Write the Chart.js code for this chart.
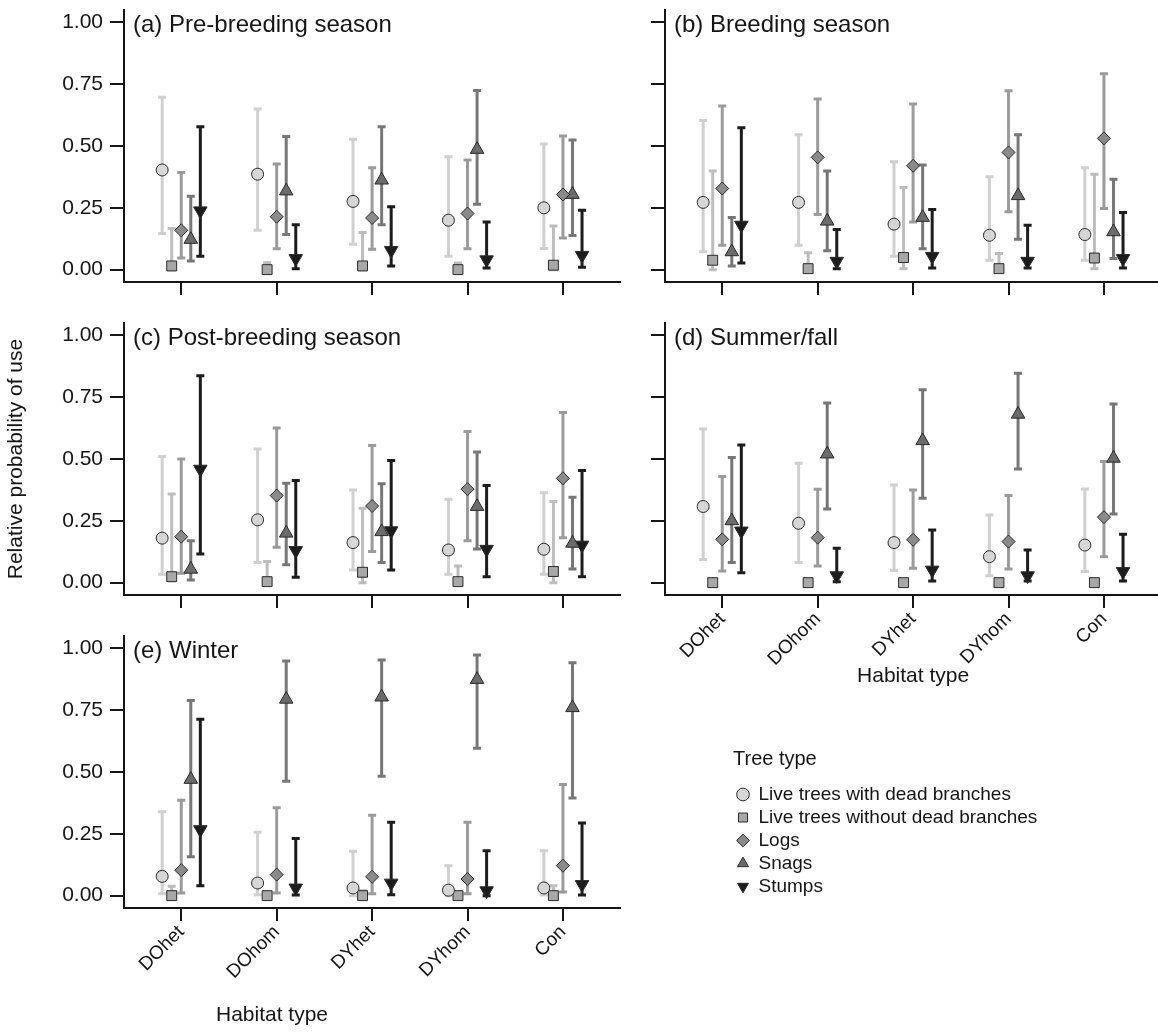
<!DOCTYPE html>
<html>
<head>
<meta charset="utf-8">
<script src="https://cdn.jsdelivr.net/npm/chart.js@4.4.1/dist/chart.umd.min.js"></script>
<style>
  html, body { margin: 0; padding: 0; background: #fff; }
  body { width: 1158px; height: 1035px; position: relative; overflow: hidden; }
  canvas { position: absolute; }
</style>
</head>
<body>
<canvas id="panelA"></canvas>
<canvas id="panelB"></canvas>
<canvas id="panelC"></canvas>
<canvas id="panelD"></canvas>
<canvas id="panelE"></canvas>
<canvas id="legendBox"></canvas>
<script>
const habitats = ['DOhet', 'DOhom', 'DYhet', 'DYhom', 'Con'];
const treeTypes = ['Live trees with dead branches', 'Live trees without dead branches', 'Logs', 'Snags', 'Stumps'];
const yTicks = [0, 0.25, 0.5, 0.75, 1];

// rows follow treeTypes, columns follow habitats
const preEst = [
  [0.403, 0.386, 0.276, 0.200, 0.250],
  [0.015, 0.000, 0.015, 0.000, 0.018],
  [0.159, 0.214, 0.209, 0.227, 0.304],
  [0.122, 0.318, 0.362, 0.486, 0.304],
  [0.238, 0.045, 0.078, 0.040, 0.058]
];
const preLo = [
  [0.146, 0.159, 0.103, 0.054, 0.085],
  [0.000, 0.000, 0.000, 0.000, 0.000],
  [0.047, 0.084, 0.082, 0.084, 0.128],
  [0.035, 0.142, 0.182, 0.264, 0.138],
  [0.054, 0.004, 0.015, 0.007, 0.010]
];
const preHi = [
  [0.697, 0.650, 0.527, 0.457, 0.508],
  [0.166, 0.028, 0.150, 0.027, 0.176],
  [0.393, 0.427, 0.412, 0.443, 0.540],
  [0.297, 0.538, 0.578, 0.724, 0.524],
  [0.578, 0.182, 0.254, 0.193, 0.240]
];

const breedEst = [
  [0.272, 0.272, 0.184, 0.139, 0.142],
  [0.038, 0.004, 0.049, 0.004, 0.047],
  [0.328, 0.454, 0.420, 0.474, 0.531],
  [0.072, 0.196, 0.211, 0.299, 0.153],
  [0.180, 0.034, 0.054, 0.034, 0.045]
];
const breedLo = [
  [0.072, 0.099, 0.054, 0.038, 0.038],
  [0.000, 0.000, 0.004, 0.000, 0.004],
  [0.099, 0.223, 0.193, 0.234, 0.247],
  [0.015, 0.076, 0.084, 0.123, 0.045],
  [0.027, 0.004, 0.007, 0.007, 0.007]
];
const breedHi = [
  [0.603, 0.545, 0.436, 0.376, 0.412],
  [0.399, 0.068, 0.332, 0.065, 0.386],
  [0.662, 0.690, 0.670, 0.723, 0.792],
  [0.211, 0.399, 0.423, 0.545, 0.366],
  [0.574, 0.162, 0.243, 0.180, 0.231]
];

const postEst = [
  [0.180, 0.254, 0.162, 0.132, 0.135],
  [0.024, 0.004, 0.042, 0.004, 0.045],
  [0.186, 0.352, 0.310, 0.378, 0.422],
  [0.054, 0.200, 0.206, 0.308, 0.159],
  [0.459, 0.130, 0.210, 0.135, 0.152]
];
const postLo = [
  [0.034, 0.081, 0.051, 0.034, 0.034],
  [0.008, 0.000, 0.000, 0.000, 0.000],
  [0.038, 0.143, 0.126, 0.169, 0.182],
  [0.011, 0.072, 0.081, 0.136, 0.055],
  [0.116, 0.022, 0.051, 0.024, 0.024]
];
const postHi = [
  [0.510, 0.540, 0.375, 0.337, 0.364],
  [0.358, 0.085, 0.301, 0.067, 0.328],
  [0.500, 0.625, 0.555, 0.611, 0.688],
  [0.169, 0.402, 0.400, 0.528, 0.345],
  [0.837, 0.413, 0.494, 0.393, 0.453]
];

const summerEst = [
  [0.308, 0.240, 0.162, 0.105, 0.152],
  [0.000, 0.000, 0.000, 0.000, 0.000],
  [0.175, 0.182, 0.173, 0.166, 0.265],
  [0.250, 0.520, 0.574, 0.681, 0.503],
  [0.209, 0.028, 0.051, 0.028, 0.045]
];
const summerLo = [
  [0.094, 0.081, 0.049, 0.028, 0.045],
  [0.000, 0.000, 0.000, 0.000, 0.000],
  [0.047, 0.067, 0.058, 0.055, 0.105],
  [0.081, 0.298, 0.341, 0.460, 0.278],
  [0.040, 0.004, 0.007, 0.007, 0.007]
];
const summerHi = [
  [0.621, 0.483, 0.395, 0.274, 0.379],
  [0.000, 0.000, 0.000, 0.000, 0.000],
  [0.429, 0.378, 0.375, 0.352, 0.490],
  [0.506, 0.726, 0.780, 0.847, 0.722],
  [0.557, 0.139, 0.213, 0.132, 0.196]
];

const winterEst = [
  [0.078, 0.051, 0.031, 0.022, 0.031],
  [0.000, 0.000, 0.000, 0.000, 0.000],
  [0.103, 0.085, 0.076, 0.067, 0.121],
  [0.470, 0.794, 0.803, 0.874, 0.760],
  [0.267, 0.031, 0.051, 0.020, 0.045]
];
const winterLo = [
  [0.008, 0.004, 0.000, 0.000, 0.003],
  [0.000, 0.000, 0.000, 0.000, 0.000],
  [0.011, 0.011, 0.008, 0.008, 0.015],
  [0.157, 0.463, 0.483, 0.596, 0.395],
  [0.040, 0.003, 0.004, 0.000, 0.003]
];
const winterHi = [
  [0.339, 0.256, 0.179, 0.121, 0.182],
  [0.038, 0.010, 0.020, 0.010, 0.040],
  [0.386, 0.355, 0.325, 0.297, 0.449],
  [0.789, 0.949, 0.953, 0.973, 0.942],
  [0.713, 0.231, 0.297, 0.182, 0.294]
];

// look of each tree type
const markerStyles = ['circle', 'rect', 'rectRot', 'triangle', 'triangle'];
const markerRot = [0, 0, 0, 0, 180];
const markerSize = [6, 7, 6.5, 7.8, 7.8];
const markerFill = ['#d6d6d6', '#a8a8a8', '#8a8a8a', '#6b6b6b', '#1c1c1c'];
const barColor = ['#d0d0d0', '#bdbdbd', '#9b9b9b', '#777777', '#1c1c1c'];
const dodge = [-0.2, -0.1, 0, 0.1, 0.2];

const ink = '#151515';
const fontName = '"Liberation Sans", Arial, sans-serif';
Chart.defaults.font.family = fontName;
Chart.defaults.color = ink;

// vertical interval lines with short caps, drawn under the points
const errorBars = {
  id: 'errorBars',
  beforeDatasetsDraw(chart) {
    const { ctx, scales: { x, y } } = chart;
    ctx.save();
    ctx.lineWidth = 3;
    chart.data.datasets.forEach(ds => {
      ctx.strokeStyle = ds.barColor;
      ds.data.forEach((p, i) => {
        const px = x.getPixelForValue(p.x);
        const y0 = y.getPixelForValue(ds.lo[i]);
        const y1 = y.getPixelForValue(ds.hi[i]);
        if (Math.abs(y0 - y1) < 1) return;
        ctx.beginPath();
        ctx.moveTo(px, y0); ctx.lineTo(px, y1);
        ctx.moveTo(px - 4, y0); ctx.lineTo(px + 4, y0);
        ctx.moveTo(px - 4, y1); ctx.lineTo(px + 4, y1);
        ctx.stroke();
      });
    });
    ctx.restore();
  }
};

// "(a) Pre-breeding season" etc. in the top left corner, plus an optional free x label
const panelText = {
  id: 'panelText',
  afterDraw(chart, args, opts) {
    const { ctx, chartArea, scales: { y } } = chart;
    ctx.save();
    ctx.fillStyle = ink;
    if (opts.title) {
      ctx.font = '24px ' + fontName;
      ctx.textBaseline = 'alphabetic';
      ctx.fillText(opts.title, chartArea.left + 9, y.getPixelForValue(1) + 10);
    }
    if (opts.xlab) {
      ctx.font = '21px ' + fontName;
      ctx.textAlign = 'center';
      ctx.textBaseline = 'middle';
      ctx.fillText(opts.xlab, opts.xlabX, opts.xlabY);
    }
    ctx.restore();
  }
};

function makePanel(id, box, title, est, lo, hi) {
  const cv = document.getElementById(id);
  cv.width = box.w;
  cv.height = box.h;
  cv.style.left = box.x + 'px';
  cv.style.top = box.y + 'px';

  const datasets = treeTypes.map((t, s) => ({
    label: t,
    data: habitats.map((h, i) => ({ x: i + 1 + dodge[s], y: est[s][i] })),
    lo: lo[s],
    hi: hi[s],
    barColor: barColor[s],
    pointStyle: markerStyles[s],
    pointRotation: markerRot[s],
    pointRadius: markerSize[s],
    pointBackgroundColor: markerFill[s],
    pointBorderColor: '#2a2a2a',
    pointBorderWidth: 1
  }));

  const axisLine = { display: true, color: ink, width: 2 };

  return new Chart(cv, {
    type: 'scatter',
    data: { datasets },
    options: {
      responsive: false,
      animation: false,
      layout: { padding: { top: 10, right: 6, bottom: 0, left: 0 } },
      plugins: {
        legend: { display: false },
        tooltip: { enabled: false },
        panelText: { title, xlab: box.freeXlab, xlabX: box.xlabX, xlabY: box.xlabY }
      },
      scales: {
        x: {
          type: 'linear',
          min: 0.4,
          max: 5.6,
          afterBuildTicks: s => { s.ticks = habitats.map((h, i) => ({ value: i + 1 })); },
          afterFit: s => { s.height = box.xH; s.paddingLeft = 0; s.paddingRight = 0; },
          ticks: {
            display: box.xLabels,
            autoSkip: false,
            minRotation: 45,
            maxRotation: 45,
            padding: 0,
            font: { size: 19 },
            callback: (v, i) => habitats[i]
          },
          grid: { drawOnChartArea: false, drawTicks: true, tickLength: 13, color: ink, lineWidth: 2 },
          border: axisLine,
          title: { display: !!box.xTitle, text: 'Habitat type', font: { size: 21 }, padding: { top: 4, bottom: 4 } }
        },
        y: {
          min: -0.05,
          max: 1.05,
          afterBuildTicks: s => { s.ticks = yTicks.map(v => ({ value: v })); },
          afterFit: s => { s.width = box.yW; s.paddingTop = 0; s.paddingBottom = 0; },
          ticks: {
            display: box.yLabels,
            padding: 7,
            font: { size: 21 },
            callback: v => v.toFixed(2)
          },
          grid: { drawOnChartArea: false, drawTicks: true, tickLength: 14, color: ink, lineWidth: 2 },
          border: axisLine,
          title: { display: !!box.yTitle, text: 'Relative probability of use', font: { size: 21 }, padding: { top: 4, bottom: 4 } }
        }
      }
    },
    plugins: [errorBars, panelText]
  });
}

// chart areas: left column 124-623 px, right column 665-1164 px (cut by the page edge)
makePanel('panelA', { x: 0, y: 0, w: 629, h: 298, yW: 124, xH: 16, yLabels: true, xLabels: false },
  '(a) Pre-breeding season', preEst, preLo, preHi);
makePanel('panelB', { x: 645, y: 0, w: 525, h: 298, yW: 20, xH: 16, yLabels: false, xLabels: false },
  '(b) Breeding season', breedEst, breedLo, breedHi);
makePanel('panelC', { x: 0, y: 313, w: 629, h: 298, yW: 124, xH: 16, yLabels: true, xLabels: false, yTitle: true },
  '(c) Post-breeding season', postEst, postLo, postHi);
makePanel('panelD', { x: 645, y: 313, w: 525, h: 380, yW: 20, xH: 98, yLabels: false, xLabels: true, xTitle: true },
  '(d) Summer/fall', summerEst, summerLo, summerHi);
makePanel('panelE', { x: 0, y: 626, w: 629, h: 406, yW: 124, xH: 124, yLabels: true, xLabels: true,
  freeXlab: 'Habitat type', xlabX: 272, xlabY: 389 },
  '(e) Winter', winterEst, winterLo, winterHi);

// legend on its own canvas (wide so the vertical legend box has room; page edge cuts the rest)
const lg = document.getElementById('legendBox');
lg.width = 900;
lg.height = 170;
lg.style.left = '733px';
lg.style.top = '749px';
new Chart(lg, {
  type: 'scatter',
  data: {
    datasets: treeTypes.map((t, s) => ({
      label: t,
      data: [],
      pointStyle: markerStyles[s],
      pointRotation: markerRot[s],
      pointRadius: markerSize[s],
      pointBackgroundColor: markerFill[s],
      pointBorderColor: '#2a2a2a',
      pointBorderWidth: 1,
      backgroundColor: markerFill[s],
      borderColor: '#2a2a2a',
      borderWidth: 1
    }))
  },
  options: {
    responsive: false,
    animation: false,
    layout: { padding: 0 },
    scales: { x: { display: false }, y: { display: false } },
    plugins: {
      tooltip: { enabled: false },
      legend: {
        position: 'left',
        align: 'start',
        title: { display: true, text: 'Tree type', position: 'start', color: ink, font: { size: 20 }, padding: { top: 0, bottom: 8 } },
        labels: { usePointStyle: true, boxWidth: 12, boxHeight: 9, padding: 4, color: ink, font: { size: 19 } }
      }
    }
  }
});
</script>
</body>
</html>
